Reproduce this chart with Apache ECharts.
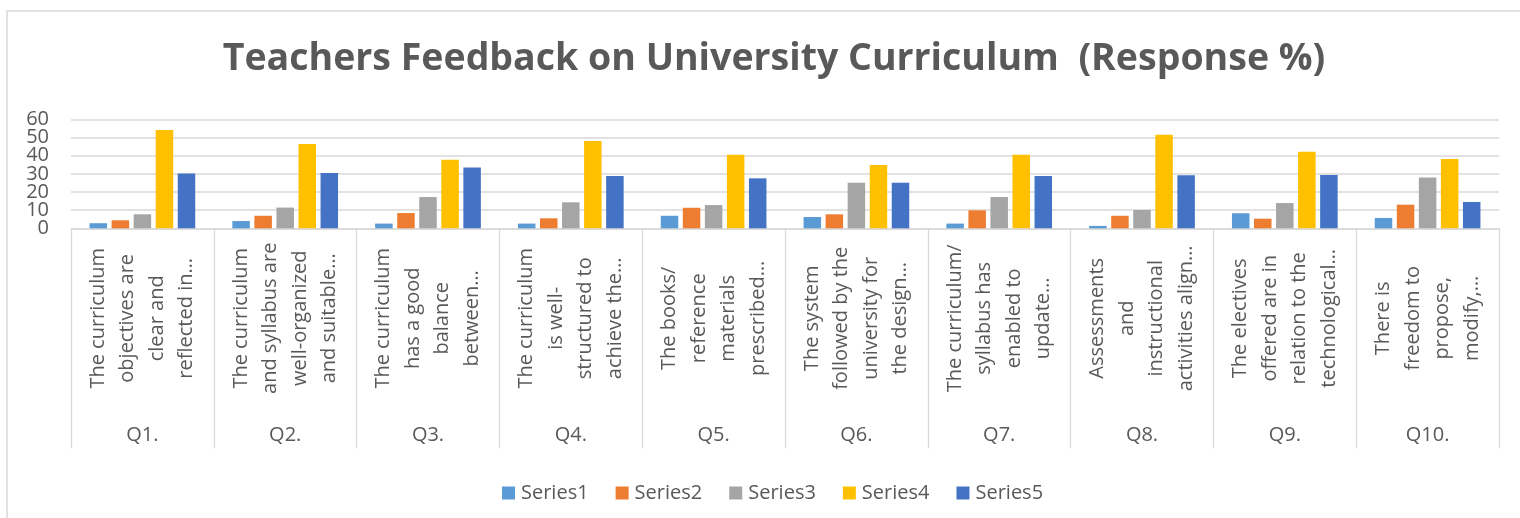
<!DOCTYPE html>
<html>
<head>
<meta charset="utf-8">
<script src="https://cdn.jsdelivr.net/npm/echarts@6/dist/echarts.min.js"></script>
<style>
html,body{margin:0;padding:0;background:#fff;}
#chart{width:1520px;height:518px;}
</style>
</head>
<body>
<div id="chart"></div>
<script>
const questions = ['Q1.','Q2.','Q3.','Q4.','Q5.','Q6.','Q7.','Q8.','Q9.','Q10.'];
const statements = [
  'The curriculum\nobjectives are\nclear and\nreflected in…',
  'The curriculum\nand syllabus are\nwell-organized\nand suitable…',
  'The curriculum\nhas a good\nbalance\nbetween…',
  'The curriculum\nis well-\nstructured to\nachieve the…',
  'The books/\nreference\nmaterials\nprescribed…',
  'The system\nfollowed by the\nuniversity for\nthe design…',
  'The curriculum/\nsyllabus has\nenabled to\nupdate…',
  'Assessments\nand\ninstructional\nactivities align…',
  'The electives\noffered are in\nrelation to the\ntechnological…',
  'There is\nfreedom to\npropose,\nmodify,…'
];
const seriesNames = ['Series1','Series2','Series3','Series4','Series5'];
const series1 = [2.8, 4.0, 2.6, 2.6, 6.9, 6.2, 2.6, 1.3, 8.3, 5.7];
const series2 = [4.4, 6.9, 8.4, 5.5, 11.3, 7.7, 9.9, 6.9, 5.3, 13.0];
const series3 = [7.7, 11.4, 17.2, 14.3, 12.8, 25.1, 17.2, 10.1, 13.9, 27.9];
const series4 = [54.1, 46.4, 37.8, 48.0, 40.5, 34.8, 40.5, 51.5, 42.2, 38.1];
const series5 = [30.1, 30.4, 33.4, 28.8, 27.5, 25.1, 28.8, 29.2, 29.4, 14.5];
const yTicksEven = [0, 20, 40, 60];
const yTicksOdd = [10, 30, 50];
const colors = ['#5B9BD5','#ED7D31','#A5A5A5','#FFC000','#4472C4'];
const titleText = 'Teachers Feedback on University Curriculum  (Response %)';

const FONT = '"Open Sans", "Noto Sans", sans-serif';
const TXT = '#595959';
const GRID = '#d9d9d9';

const chart = echarts.init(document.getElementById('chart'), null, {renderer:'canvas'});
const allData = [series1, series2, series3, series4, series5];

function yAxisDef(list, showGrid) {
  return {
    type: 'value', min: 0, max: 60, interval: 10, position: 'left', offset: 0,
    axisLine: {show: false}, axisTick: {show: false},
    axisLabel: {
      margin: 22, fontFamily: FONT, fontSize: 20, color: TXT,
      showMinLabel: true, showMaxLabel: true, hideOverlap: false,
      formatter: v => list.includes(v) ? String(v) : ''
    },
    splitLine: {show: showGrid, lineStyle: {color: GRID, width: 1.5}}
  };
}

chart.setOption({
  animation: false,
  backgroundColor: '#ffffff',
  color: colors,
  graphic: [{
    type: 'rect', silent: true, z: -1,
    shape: {x: 7, y: 11, width: 1700, height: 700},
    style: {fill: 'none', stroke: GRID, lineWidth: 1.5}
  }],
  title: {
    text: titleText,
    left: 769, top: 35, textAlign: 'center',
    textStyle: {fontFamily: FONT, fontWeight: 'bold', fontSize: 37.5, color: TXT}
  },
  legend: {
    data: seriesNames,
    left: 497, top: 478,
    itemWidth: 13, itemHeight: 13, itemGap: 27,
    icon: 'rect',
    textStyle: {fontFamily: FONT, fontSize: 20, color: TXT, padding: [0,0,0,1]}
  },
  grid: {left: 71, right: 21, top: 119.3, bottom: 289.7, containLabel: false},
  xAxis: [{
    type: 'category',
    data: statements,
    position: 'bottom',
    axisLine: {show: true, lineStyle: {color: GRID, width: 1.5}},
    axisTick: {show: true, interval: 0, length: 220, alignWithLabel: false, lineStyle: {color: GRID, width: 1.3}},
    axisLabel: {
      interval: 0, rotate: 90, align: 'center', verticalAlign: 'middle',
      margin: 90, lineHeight: 29.5,
      fontFamily: FONT, fontSize: 20, color: TXT, hideOverlap: false
    },
    splitLine: {show: false}
  }, {
    type: 'category',
    data: questions,
    position: 'bottom',
    axisLine: {show: false},
    axisTick: {show: false},
    axisLabel: {
      interval: 0, margin: 207, verticalAlign: 'middle',
      fontFamily: FONT, fontSize: 20, color: TXT
    }
  }],
  yAxis: [yAxisDef(yTicksEven, true), yAxisDef(yTicksOdd, false)],
  series: seriesNames.map((n, i) => ({
    name: n, type: 'bar', xAxisIndex: 0, yAxisIndex: 0,
    data: allData[i],
    barWidth: 17.5, barGap: '26%',
    itemStyle: {color: colors[i]}
  }))
});
</script>
</body>
</html>
